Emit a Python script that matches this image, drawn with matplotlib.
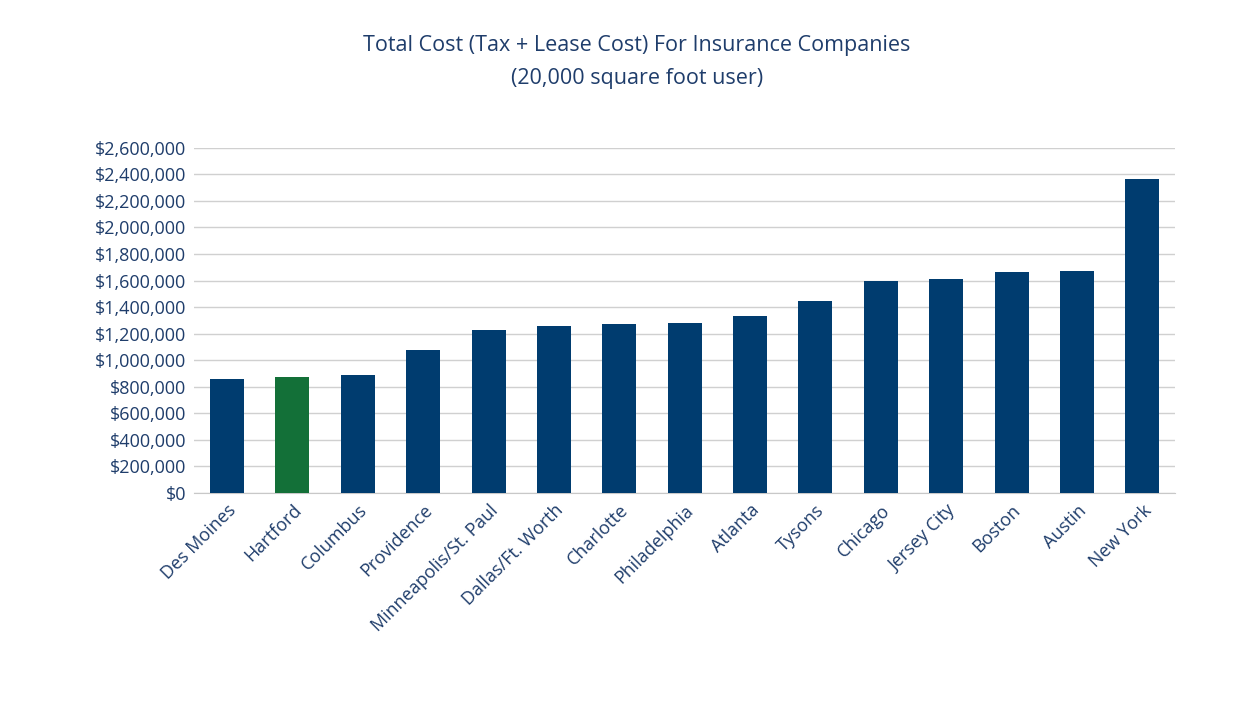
import matplotlib.pyplot as plt
from matplotlib.ticker import FuncFormatter, MultipleLocator

cities = ["Des Moines", "Hartford", "Columbus", "Providence", "Minneapolis/St. Paul",
          "Dallas/Ft. Worth", "Charlotte", "Philadelphia", "Atlanta", "Tysons",
          "Chicago", "Jersey City", "Boston", "Austin", "New York"]
total_cost = [860000, 874000, 889000, 1078000, 1228000, 1258000, 1274000, 1281000,
              1334000, 1447000, 1598000, 1613000, 1665000, 1673000, 2366000]
highlight = "Hartford"

plt.rcParams['font.family'] = ['Open Sans', 'DejaVu Sans']
txt = '#1f3d6b'
navy = '#003c6f'
green = '#137038'

fig = plt.figure(figsize=(12.54, 7.04), dpi=100)
ax = fig.add_axes([0.155, 0.2997, 0.782, 0.4903])
colors = [green if c == highlight else navy for c in cities]
ax.bar(range(len(cities)), total_cost, width=0.52, color=colors, zorder=3)

ax.set_ylim(0, 2600000)
ax.set_xlim(-0.5, len(cities) - 0.5)
ax.yaxis.set_major_locator(MultipleLocator(200000))
ax.yaxis.set_major_formatter(FuncFormatter(lambda v, p: f"${v:,.0f}"))
ax.grid(axis='y', color='#d0d0d0', linewidth=1, zorder=0)
for s in ['top', 'right', 'left']:
    ax.spines[s].set_visible(False)
ax.spines['bottom'].set_color('#c8c8c8')
ax.tick_params(axis='y', length=0, labelsize=13, labelcolor=txt, pad=6)
ax.tick_params(axis='x', length=0, labelsize=13, labelcolor=txt, pad=6)
ax.set_xticks(range(len(cities)))
ax.set_xticklabels(cities, rotation=45, ha='right', rotation_mode='anchor')

fig.text(0.508, 0.935, "Total Cost (Tax + Lease Cost) For Insurance Companies",
         ha='center', va='center', fontsize=15.5, color=txt)
fig.text(0.508, 0.888, "(20,000 square foot user)",
         ha='center', va='center', fontsize=15.5, color=txt)

fig.savefig("out.png", dpi=100)
